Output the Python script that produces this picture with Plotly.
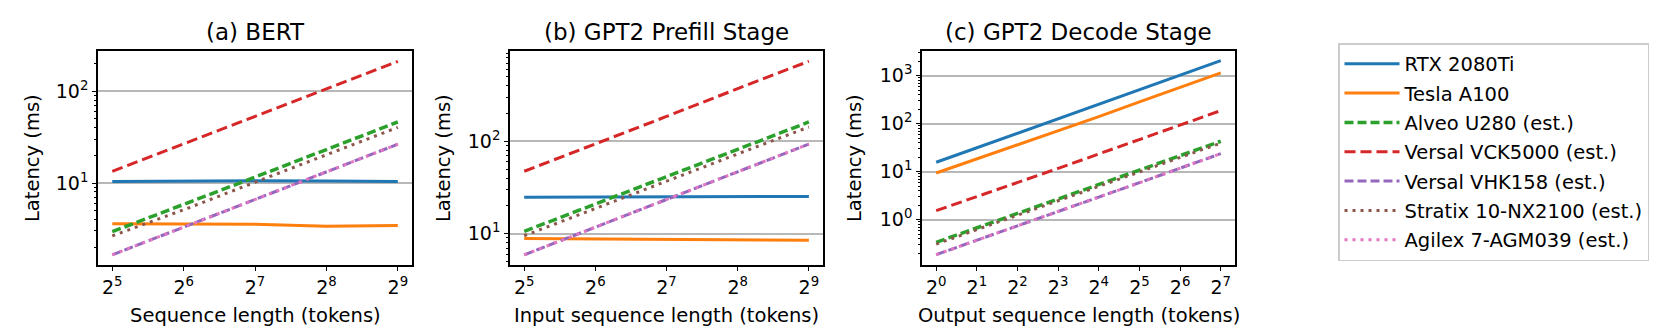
import plotly.graph_objects as go

# x values (tokens)
seq_bert = [32, 64, 128, 256, 512]
seq_prefill = [32, 64, 128, 256, 512]
seq_decode = [1, 2, 4, 8, 16, 32, 64, 128]

devices = ["RTX 2080Ti", "Tesla A100", "Alveo U280 (est.)", "Versal VCK5000 (est.)",
           "Versal VHK158 (est.)", "Stratix 10-NX2100 (est.)", "Agilex 7-AGM039 (est.)"]

# latency (ms)
bert_rtx = [10.4, 10.5, 10.6, 10.5, 10.4]
bert_a100 = [3.6, 3.6, 3.55, 3.37, 3.45]
bert_u280 = [2.95, 5.8, 11.6, 23.2, 46.3]
bert_vck = [13.4, 26.6, 53, 106, 212]
bert_vhk = [1.65, 3.3, 6.6, 13.2, 26.5]
bert_stratix = [2.65, 5.1, 10.2, 20.4, 40.5]
bert_agilex = [1.65, 3.3, 6.6, 13.2, 26.5]

pre_rtx = [24.8, 24.9, 25.0, 25.1, 25.3]
pre_a100 = [8.85, 8.8, 8.7, 8.6, 8.5]
pre_u280 = [10.6, 21, 42, 83, 162]
pre_vck = [47.4, 93, 186, 372, 736]
pre_vhk = [5.9, 11.7, 23.4, 46.8, 93.4]
pre_stratix = [9.5, 18.6, 37, 73, 143]
pre_agilex = [5.9, 11.7, 23.4, 46.8, 93.4]

dec_rtx = [15.7, 31.5, 63, 126, 253, 510, 1020, 2050]
dec_a100 = [9.4, 18.4, 36, 71, 140, 285, 570, 1140]
dec_u280 = [0.338, 0.68, 1.35, 2.7, 5.4, 10.8, 21.6, 43]
dec_vck = [1.54, 3.0, 5.9, 11.7, 23.4, 47, 94, 187]
dec_vhk = [0.187, 0.37, 0.74, 1.48, 2.96, 5.9, 11.8, 23.7]
dec_stratix = [0.31, 0.62, 1.24, 2.48, 4.95, 9.9, 19.8, 39.5]
dec_agilex = [0.187, 0.37, 0.74, 1.48, 2.96, 5.9, 11.8, 23.7]

colors = ["#1f77b4", "#ff7f0e", "#2ca02c", "#d62728", "#9467bd", "#8c564b", "#e377c2"]
dashes = ["solid", "solid", "9px,4px", "11px,5px", "9px,4px", "3px,5px", "3px,5px"]
widths = [3, 3, 3.5, 3, 3, 3, 3]

panels = [
    (seq_bert, [bert_rtx, bert_a100, bert_u280, bert_vck, bert_vhk, bert_stratix, bert_agilex]),
    (seq_prefill, [pre_rtx, pre_a100, pre_u280, pre_vck, pre_vhk, pre_stratix, pre_agilex]),
    (seq_decode, [dec_rtx, dec_a100, dec_u280, dec_vck, dec_vhk, dec_stratix, dec_agilex]),
]

W, H = 1661, 331
FONT = "DejaVu Sans"
fig = go.Figure()

for p, (xs, series) in enumerate(panels):
    sfx = "" if p == 0 else str(p + 1)
    for i, ys in enumerate(series):
        fig.add_trace(go.Scatter(
            x=xs, y=ys, mode="lines", name=devices[i],
            line=dict(color=colors[i], dash=dashes[i], width=widths[i]),
            showlegend=(p == 0), legendgroup=devices[i],
            xaxis="x" + sfx, yaxis="y" + sfx))

# plot boxes in pixels (left, right)
boxes = [(90, 404), (502, 815), (914, 1227)]
top, bottom = 43, 257
yranges = [[0.106, 2.44], [0.661, 2.978], [-0.944, 3.514]]
xranges = [[1.445, 2.769], [1.445, 2.769], [-0.105, 2.2126]]
titles = ["(a) BERT", "(b) GPT2 Prefill Stage", "(c) GPT2 Decode Stage"]
xtitles = ["Sequence length (tokens)", "Input sequence length (tokens)",
           "Output sequence length (tokens)"]

minor_vals = [m * 10 ** e for e in range(-2, 4) for m in range(2, 10)]
major_vals = [10 ** e for e in range(-2, 5)]

annotations = []
for p in range(3):
    sfx = "" if p == 0 else str(p + 1)
    l, r = boxes[p]
    xs = panels[p][0]
    fig.layout["xaxis" + sfx] = dict(
        type="log", domain=[l / W, r / W], range=xranges[p], anchor="y" + sfx,
        tickvals=xs, ticktext=[f"2<sup>{len(bin(v)) - 3}</sup>" for v in xs],
        ticks="outside", ticklen=4, tickwidth=1.3, tickcolor="black",
        showline=True, mirror=True, linecolor="black", linewidth=1.6,
        showgrid=False, zeroline=False, tickfont=dict(family=FONT, size=19, color="black"))
    fig.layout["yaxis" + sfx] = dict(
        type="log", domain=[(H - bottom) / H, (H - top) / H], range=yranges[p], anchor="x" + sfx,
        tickvals=major_vals, ticktext=[f"10<sup>{e}</sup>" for e in range(-2, 5)],
        ticks="outside", ticklen=4, tickwidth=1.3, tickcolor="black",
        minor=dict(tickmode="array", tickvals=minor_vals, ticks="outside", ticklen=2,
                   tickwidth=1, tickcolor="black", showgrid=False),
        showline=True, mirror=True, linecolor="black", linewidth=1.6,
        showgrid=True, gridcolor="#b8b8b8", gridwidth=1.5, zeroline=False,
        tickfont=dict(family=FONT, size=19, color="black"))
    cx = (l + r) / 2 / W
    annotations.append(dict(text=titles[p], x=cx, y=(H - 24) / H, xref="paper", yref="paper",
                            xanchor="center", yanchor="middle", showarrow=False,
                            font=dict(family=FONT, size=23, color="black")))
    annotations.append(dict(text=xtitles[p], x=cx, y=(H - 307) / H, xref="paper", yref="paper",
                            xanchor="center", yanchor="middle", showarrow=False,
                            font=dict(family=FONT, size=19.5, color="black")))
    annotations.append(dict(text="Latency (ms)", x=[24, 435, 846][p] / W, y=(H - 150) / H,
                            xref="paper", yref="paper", textangle=-90,
                            xanchor="center", yanchor="middle", showarrow=False,
                            font=dict(family=FONT, size=19.5, color="black")))

fig.update_layout(
    width=W, height=H, margin=dict(l=0, r=0, t=0, b=0),
    paper_bgcolor="white", plot_bgcolor="white",
    annotations=annotations,
    legend=dict(x=1330 / W, y=(H - 35) / H, xanchor="left", yanchor="top",
                bordercolor="#cccccc", borderwidth=1.5, bgcolor="white",
                font=dict(family=FONT, size=19.5, color="black"),
                traceorder="grouped", tracegroupgap=1, itemwidth=55),
)

fig.write_html("out.html")
